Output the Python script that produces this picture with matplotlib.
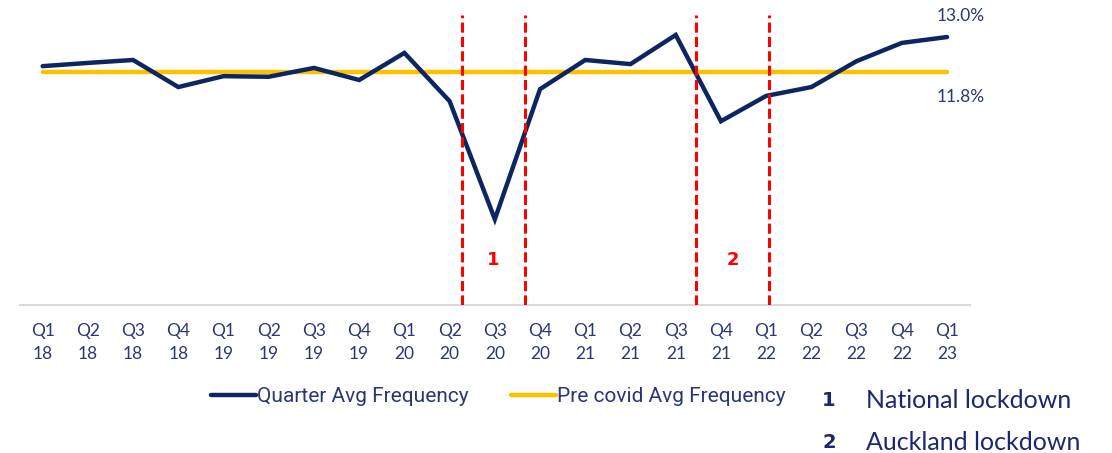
import matplotlib
matplotlib.use("Agg")
import matplotlib.pyplot as plt

# quarterly average frequency (%)
quarters = ["Q1\n18", "Q2\n18", "Q3\n18", "Q4\n18",
            "Q1\n19", "Q2\n19", "Q3\n19", "Q4\n19",
            "Q1\n20", "Q2\n20", "Q3\n20", "Q4\n20",
            "Q1\n21", "Q2\n21", "Q3\n21", "Q4\n21",
            "Q1\n22", "Q2\n22", "Q3\n22", "Q4\n22",
            "Q1\n23"]
quarter_avg = [12.01, 12.12, 12.22, 11.30,
               11.67, 11.65, 11.95, 11.54,
               12.46, 10.82, 6.81, 11.23,
               12.22, 12.08, 13.07, 10.14,
               11.00, 11.30, 12.18, 12.80,
               13.00]
pre_covid_avg = 11.8

# lockdown periods (start, end) on the quarter axis
lockdowns = [(9.27, 10.66), (14.45, 16.06)]
lockdown_names = ["National lockdown", "Auckland lockdown"]

navy = "#0B2660"
gold = "#FFC000"
red = "#FF0000"
text_col = "#2B3775"

plt.rcParams["font.family"] = ["Lato", "DejaVu Sans"]

fig = plt.figure(figsize=(11.12, 4.53), dpi=100)
ax = fig.add_axes([0.018, 0.327, 0.854, 0.640])

x = list(range(len(quarters)))
ax.plot(x, quarter_avg, color=navy, lw=3.2, solid_joinstyle="miter",
        solid_capstyle="round", label="Quarter Avg Frequency", zorder=3)
ax.plot([x[0], x[-1]], [pre_covid_avg, pre_covid_avg], color=gold, lw=3.2,
        solid_capstyle="round", label="Pre covid Avg Frequency", zorder=2)

for i, (a, b) in enumerate(lockdowns):
    for xv in (a, b):
        ax.axvline(xv, ymin=0.0, ymax=1.0, color=red, lw=2.2,
                   linestyle=(0, (3.3, 1.4)), zorder=4)
    ax.text((a + b) / 2, 0.155, str(i + 1), transform=ax.get_xaxis_transform(),
            color=red, fontsize=13, fontweight="bold", ha="center", va="center",
            family=["DejaVu Sans"])

ax.text(x[-1] + 0.3, quarter_avg[-1] + 0.7, f"{quarter_avg[-1]:.1f}%",
        color=text_col, fontsize=12.5, ha="center", va="center")
ax.text(x[-1] + 0.3, pre_covid_avg - 0.85, f"{pre_covid_avg:.1f}%",
        color=text_col, fontsize=12.5, ha="center", va="center")

ax.set_xlim(-0.5, 20.5)
ax.set_ylim(3.9, 13.75)
ax.set_xticks(x)
ax.set_xticklabels(quarters, color=text_col, fontsize=12.5, linespacing=1.55)
ax.tick_params(axis="x", length=0, pad=13)
ax.set_yticks([])
for side in ("top", "left", "right"):
    ax.spines[side].set_visible(False)
ax.spines["bottom"].set_color("#D9D9D9")
ax.spines["bottom"].set_linewidth(1.5)

leg = fig.legend(handles=ax.get_lines()[:2], loc="center",
                 bbox_to_anchor=(0.448, 0.124), ncol=2, frameon=False,
                 handlelength=2.16, handletextpad=0.05,
                 columnspacing=2.0, prop={"family": "Roboto", "size": 15})
for t in leg.get_texts():
    t.set_color(text_col)

for i, name in enumerate(lockdown_names):
    yy = 1 - (401 + 41 * i) / 453
    fig.text(829 / 1112, yy, str(i + 1), color="#1B2870", fontsize=14,
             fontweight="bold", ha="center", va="center", family=["DejaVu Sans"])
    fig.text(866 / 1112, yy, name, color="#1B2870", fontsize=18,
             ha="left", va="center")

fig.savefig("out.png", dpi=100)
